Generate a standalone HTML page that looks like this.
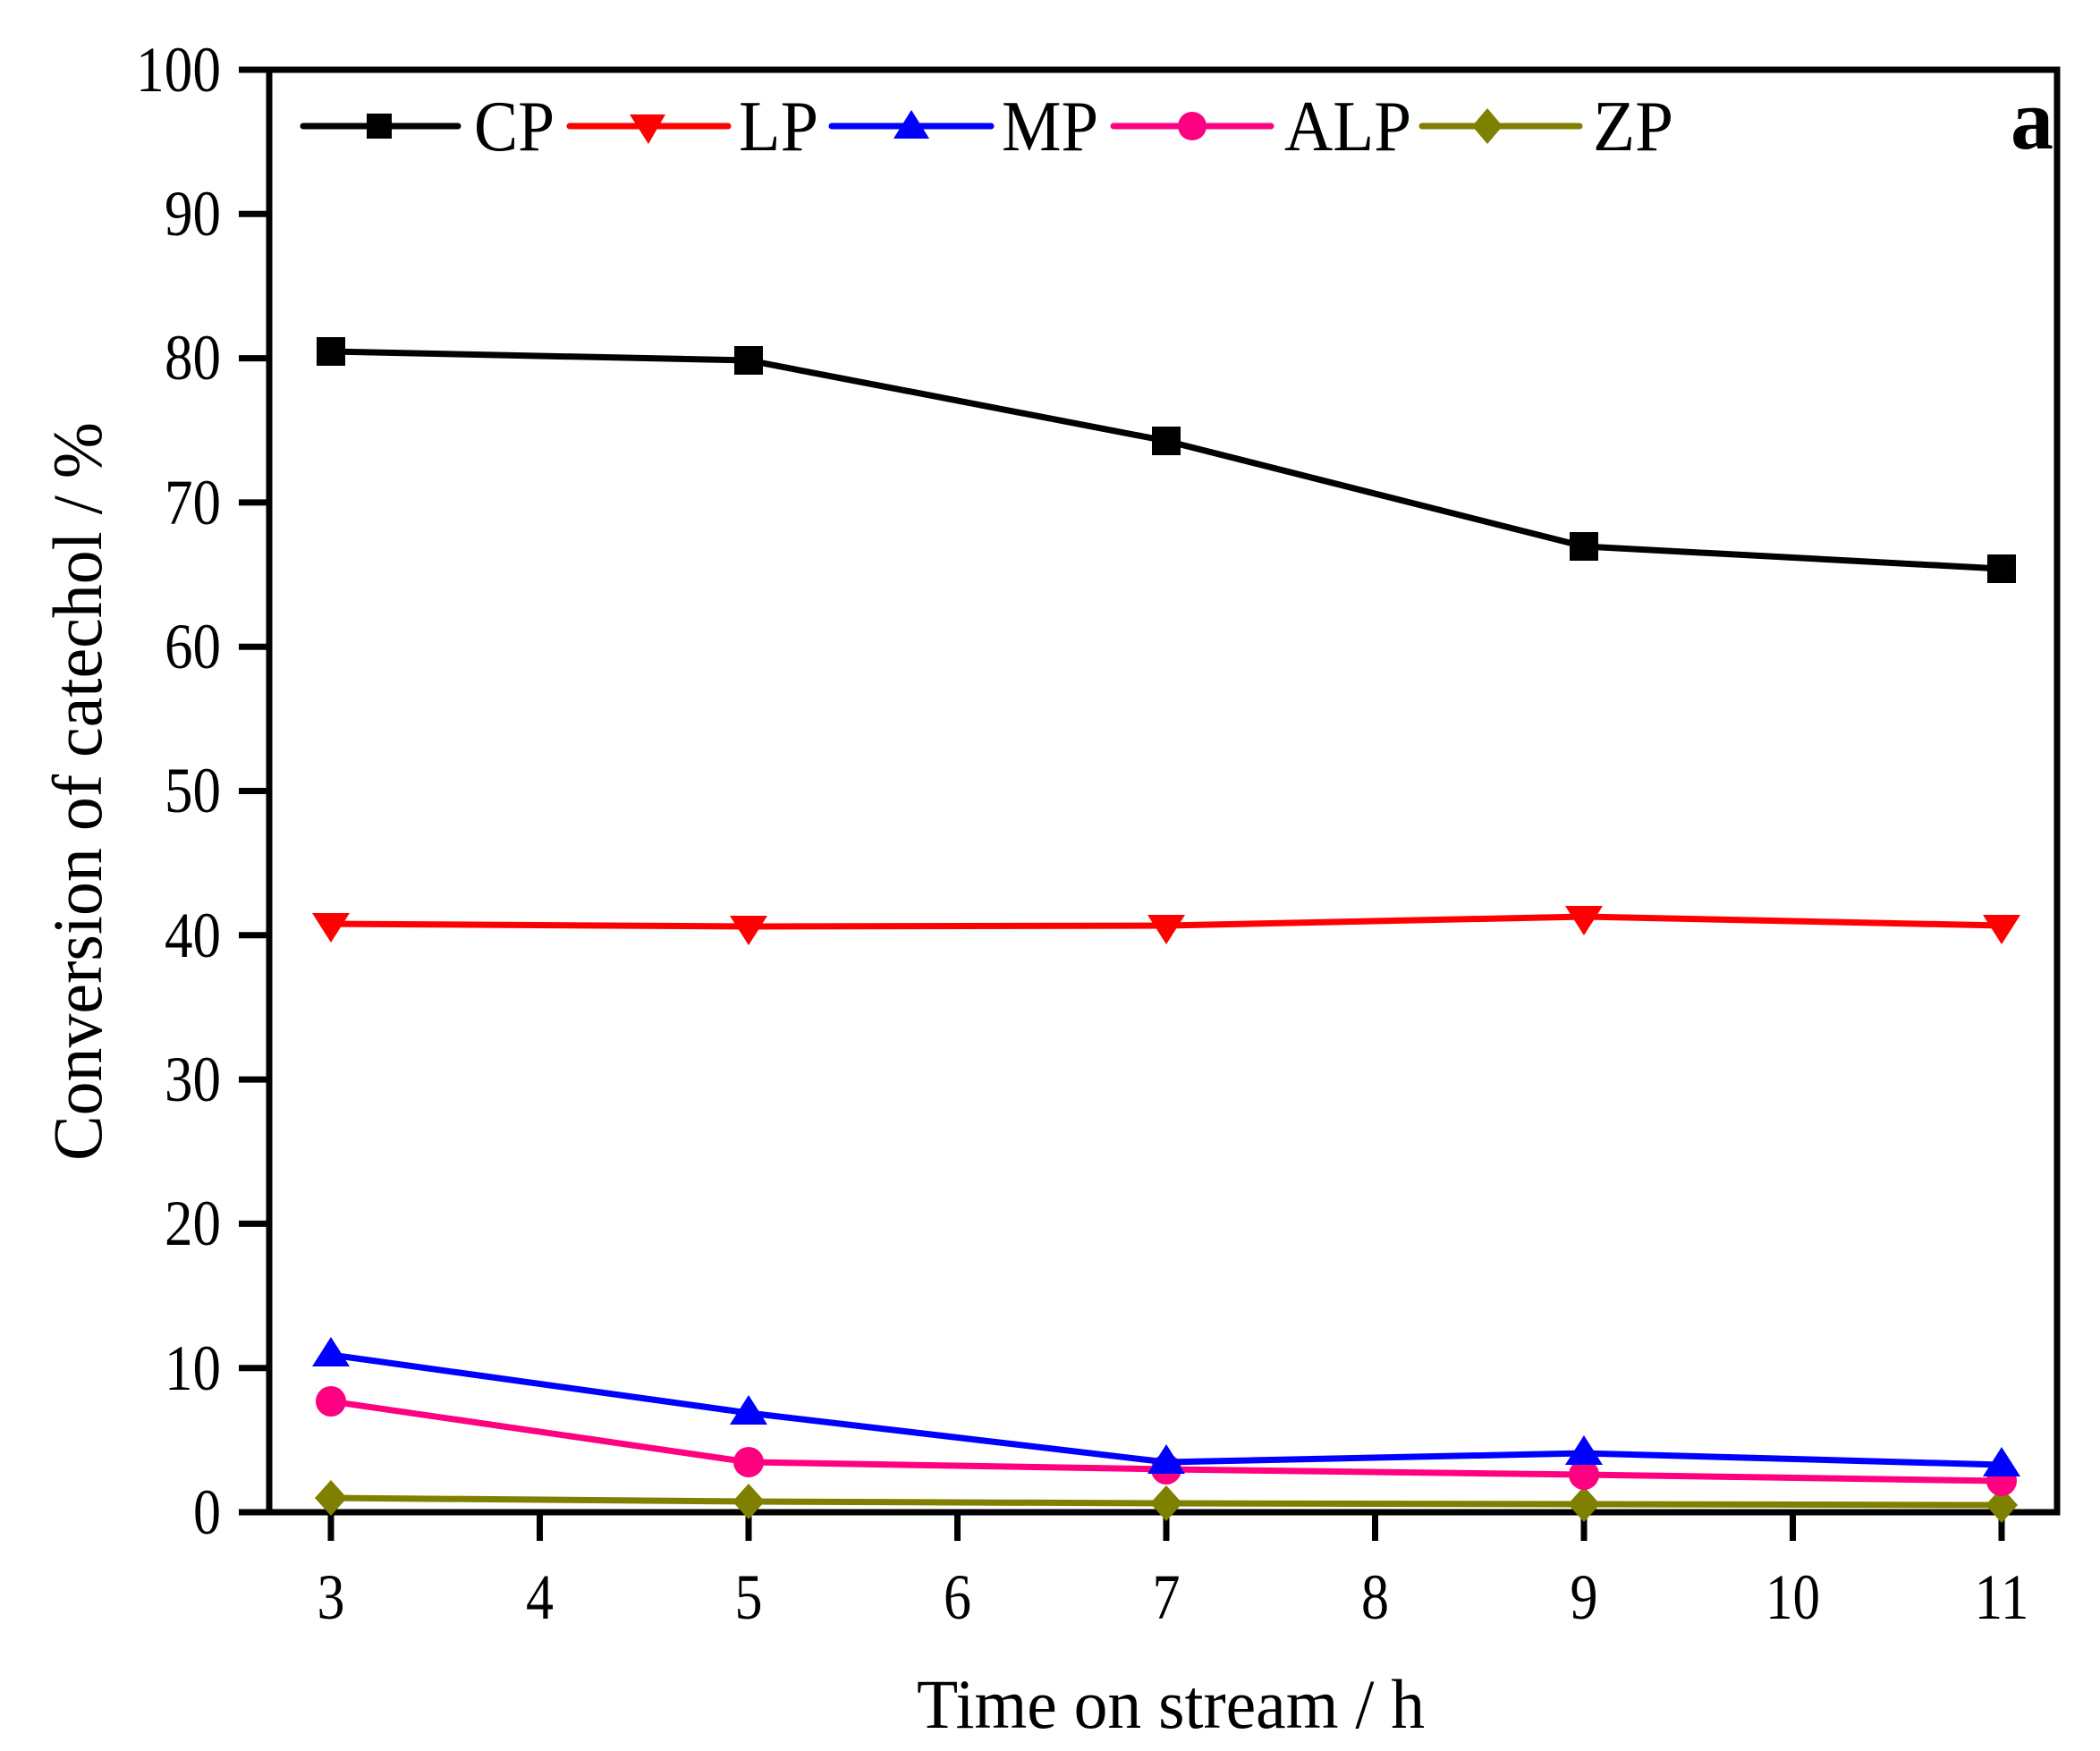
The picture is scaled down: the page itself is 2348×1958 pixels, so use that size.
<!DOCTYPE html>
<html><head><meta charset="utf-8"><style>html,body{margin:0;padding:0;background:#fff}svg{display:block}</style></head>
<body>
<svg width="2348" height="1958" viewBox="0 0 2348 1958" xmlns="http://www.w3.org/2000/svg" font-family="'Liberation Serif', serif">
<rect width="2348" height="1958" fill="#fff"/>
<rect x="301" y="78" width="1999" height="1613" fill="none" stroke="#000" stroke-width="7"/>
<g stroke="#000" stroke-width="7">
<line x1="267" y1="1691" x2="301" y2="1691"/>
<line x1="267" y1="1529.7" x2="301" y2="1529.7"/>
<line x1="267" y1="1368.4" x2="301" y2="1368.4"/>
<line x1="267" y1="1207.1" x2="301" y2="1207.1"/>
<line x1="267" y1="1045.8" x2="301" y2="1045.8"/>
<line x1="267" y1="884.5" x2="301" y2="884.5"/>
<line x1="267" y1="723.2" x2="301" y2="723.2"/>
<line x1="267" y1="561.9" x2="301" y2="561.9"/>
<line x1="267" y1="400.6" x2="301" y2="400.6"/>
<line x1="267" y1="239.3" x2="301" y2="239.3"/>
<line x1="267" y1="78" x2="301" y2="78"/>
</g>
<g stroke="#000" stroke-width="7">
<line x1="370" y1="1691" x2="370" y2="1723"/>
<line x1="603.5" y1="1691" x2="603.5" y2="1723"/>
<line x1="837" y1="1691" x2="837" y2="1723"/>
<line x1="1070.5" y1="1691" x2="1070.5" y2="1723"/>
<line x1="1304" y1="1691" x2="1304" y2="1723"/>
<line x1="1537.5" y1="1691" x2="1537.5" y2="1723"/>
<line x1="1771" y1="1691" x2="1771" y2="1723"/>
<line x1="2004.5" y1="1691" x2="2004.5" y2="1723"/>
<line x1="2238" y1="1691" x2="2238" y2="1723"/>
</g>
<g font-size="72" text-anchor="end" fill="#000" lengthAdjust="spacingAndGlyphs">
<text x="247" y="1715" textLength="31" lengthAdjust="spacingAndGlyphs">0</text>
<text x="247" y="1554" textLength="63" lengthAdjust="spacingAndGlyphs">10</text>
<text x="247" y="1392" textLength="63" lengthAdjust="spacingAndGlyphs">20</text>
<text x="247" y="1231" textLength="63" lengthAdjust="spacingAndGlyphs">30</text>
<text x="247" y="1070" textLength="63" lengthAdjust="spacingAndGlyphs">40</text>
<text x="247" y="908" textLength="63" lengthAdjust="spacingAndGlyphs">50</text>
<text x="247" y="747" textLength="63" lengthAdjust="spacingAndGlyphs">60</text>
<text x="247" y="586" textLength="63" lengthAdjust="spacingAndGlyphs">70</text>
<text x="247" y="424" textLength="63" lengthAdjust="spacingAndGlyphs">80</text>
<text x="247" y="263" textLength="63" lengthAdjust="spacingAndGlyphs">90</text>
<text x="247" y="102" textLength="95" lengthAdjust="spacingAndGlyphs">100</text>
</g>
<g font-size="72" text-anchor="middle" fill="#000">
<text x="370" y="1810" textLength="31" lengthAdjust="spacingAndGlyphs">3</text>
<text x="603.5" y="1810" textLength="31" lengthAdjust="spacingAndGlyphs">4</text>
<text x="837" y="1810" textLength="31" lengthAdjust="spacingAndGlyphs">5</text>
<text x="1070.5" y="1810" textLength="31" lengthAdjust="spacingAndGlyphs">6</text>
<text x="1304" y="1810" textLength="31" lengthAdjust="spacingAndGlyphs">7</text>
<text x="1537.5" y="1810" textLength="31" lengthAdjust="spacingAndGlyphs">8</text>
<text x="1771" y="1810" textLength="31" lengthAdjust="spacingAndGlyphs">9</text>
<text x="2004.5" y="1810" textLength="61" lengthAdjust="spacingAndGlyphs">10</text>
<text x="2238" y="1810" textLength="61" lengthAdjust="spacingAndGlyphs">11</text>
</g>
<text x="1309" y="1932" font-size="78" text-anchor="middle" textLength="568" lengthAdjust="spacingAndGlyphs">Time on stream / h</text>
<text transform="translate(113,885) rotate(-90)" font-size="78" text-anchor="middle" textLength="826" lengthAdjust="spacingAndGlyphs">Conversion of catechol / %</text>

<polyline fill="none" stroke="#808000" stroke-width="7" points="370,1675 837,1679 1304,1681 1771,1682 2238,1683"/>
<g fill="#808000">
<polygon points="370,1655 388,1675 370,1695 352,1675"/>
<polygon points="837,1659 855,1679 837,1699 819,1679"/>
<polygon points="1304,1661 1322,1681 1304,1701 1286,1681"/>
<polygon points="1771,1662 1789,1682 1771,1702 1753,1682"/>
<polygon points="2238,1663 2256,1683 2238,1703 2220,1683"/>
</g>
<polyline fill="none" stroke="#ff0080" stroke-width="7" points="370,1567 837,1635 1304,1643 1771,1649 2238,1656"/>
<g fill="#ff0080">
<circle cx="370" cy="1567" r="17"/><circle cx="837" cy="1635" r="17"/><circle cx="1304" cy="1643" r="17"/><circle cx="1771" cy="1649" r="17"/><circle cx="2238" cy="1656" r="17"/>
</g>
<polyline fill="none" stroke="#0000ff" stroke-width="7" points="370,1515 837,1580 1304,1635 1771,1625 2238,1638"/>
<g fill="#0000ff">
<polygon points="370,1495 391,1528 349,1528"/>
<polygon points="837,1560 858,1593 816,1593"/>
<polygon points="1304,1615 1325,1648 1283,1648"/>
<polygon points="1771,1605 1792,1638 1750,1638"/>
<polygon points="2238,1618 2259,1651 2217,1651"/>
</g>
<polyline fill="none" stroke="#ff0000" stroke-width="7" points="370,1033 837,1036 1304,1035 1771,1025 2238,1035"/>
<g fill="#ff0000">
<polygon points="349,1021 391,1021 370,1054"/>
<polygon points="816,1024 858,1024 837,1057"/>
<polygon points="1283,1023 1325,1023 1304,1056"/>
<polygon points="1750,1013 1792,1013 1771,1046"/>
<polygon points="2217,1023 2259,1023 2238,1056"/>
</g>
<polyline fill="none" stroke="#000" stroke-width="7" points="370,393 837,403 1304,493 1771,611 2238,636"/>
<g fill="#000">
<rect x="354" y="377" width="32" height="32"/>
<rect x="821" y="387" width="32" height="32"/>
<rect x="1288" y="477" width="32" height="32"/>
<rect x="1755" y="595" width="32" height="32"/>
<rect x="2222" y="620" width="32" height="32"/>
</g>

<g stroke-width="7" stroke-linecap="round">
<line x1="339" y1="141" x2="512" y2="141" stroke="#000"/>
<line x1="637" y1="141" x2="814" y2="141" stroke="#ff0000"/>
<line x1="930" y1="141" x2="1108" y2="141" stroke="#0000ff"/>
<line x1="1245" y1="141" x2="1421" y2="141" stroke="#ff0080"/>
<line x1="1590" y1="141" x2="1766" y2="141" stroke="#808000"/>
</g>
<rect x="410" y="127" width="28" height="28" fill="#000"/>
<polygon points="704,128 744,128 725,161" fill="#ff0000"/>
<polygon points="1019,123 1039,155 999,155" fill="#0000ff"/>
<circle cx="1333" cy="141" r="16" fill="#ff0080"/>
<polygon points="1663,121 1680,141 1663,161 1646,141" fill="#808000"/>
<g font-size="80" fill="#000">
<text x="530" y="168" textLength="90" lengthAdjust="spacingAndGlyphs">CP</text>
<text x="826" y="168" textLength="89" lengthAdjust="spacingAndGlyphs">LP</text>
<text x="1120" y="168" textLength="108" lengthAdjust="spacingAndGlyphs">MP</text>
<text x="1436" y="168" textLength="142" lengthAdjust="spacingAndGlyphs">ALP</text>
<text x="1781" y="168" textLength="90" lengthAdjust="spacingAndGlyphs">ZP</text>
</g>
<text x="2296" y="166" font-size="96" font-weight="bold" text-anchor="end">a</text>
</svg>
</body></html>
